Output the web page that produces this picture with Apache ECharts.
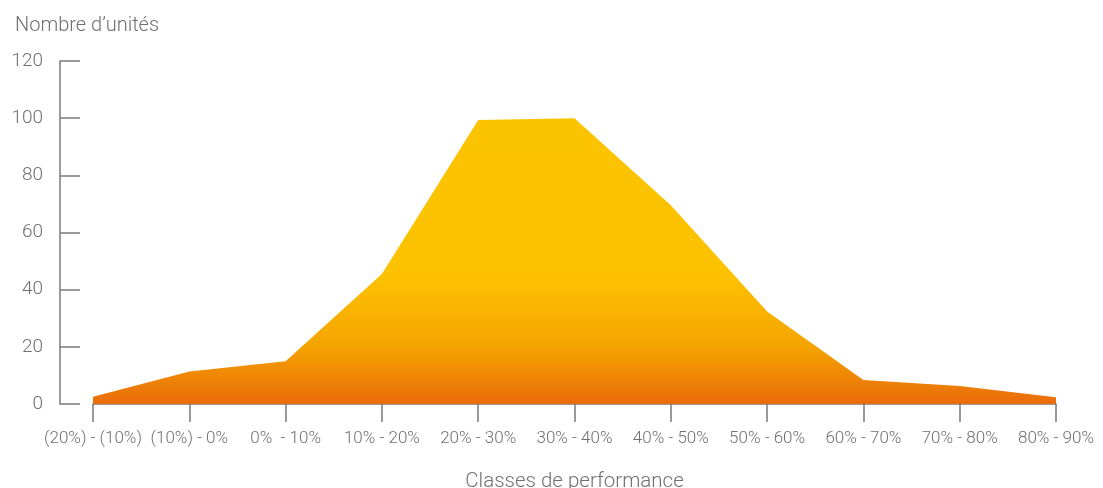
<!DOCTYPE html>
<html>
<head>
<meta charset="utf-8">
<script src="https://cdn.jsdelivr.net/npm/echarts@6/dist/echarts.min.js"></script>
<style>
  html, body { margin: 0; padding: 0; background: #fff; }
  #chart { width: 1103px; height: 488px; }
</style>
</head>
<body>
<div id="chart"></div>
<script>
// Performance classes along the horizontal axis
const classes = [
  '(20%) - (10%)', '(10%) - 0%', '0%  - 10%', '10% - 20%', '20% - 30%',
  '30% - 40%', '40% - 50%', '50% - 60%', '60% - 70%', '70% - 80%', '80% - 90%'
];
// Number of units in each class
const units = [2.5, 11.4, 15, 45.5, 99.4, 100, 69.5, 32.4, 8.4, 6.3, 2.4];
// Vertical axis ticks
const yTicks = [0, 20, 40, 60, 80, 100, 120];

const axisGrey = '#7a7a7a';
const textGrey = '#707070';
const font = 'Roboto, "Liberation Sans", sans-serif';

const chart = echarts.init(document.getElementById('chart'), null, { renderer: 'canvas' });
chart.setOption({
  animation: false,
  title: {
    text: 'Nombre d’unités',
    left: 10, top: 11,
    textStyle: { color: textGrey, fontSize: 20, fontWeight: 300, fontFamily: font }
  },
  grid: {
    left: 93, right: 47, top: 61, bottom: 84,
    containLabel: false,
    outerBoundsMode: 'none'
  },
  xAxis: {
    type: 'category',
    data: classes,
    boundaryGap: false,
    name: 'Classes de performance',
    nameLocation: 'middle',
    nameGap: 67,
    nameTextStyle: { color: textGrey, fontSize: 20.5, fontWeight: 300, fontFamily: font },
    axisLine: { lineStyle: { color: axisGrey, width: 1.5 } },
    axisTick: { alignWithLabel: true, length: 18, lineStyle: { color: axisGrey, width: 1.5 } },
    axisLabel: { color: textGrey, fontSize: 17, fontWeight: 300, fontFamily: font, margin: 26, interval: 0 }
  },
  yAxis: {
    type: 'value',
    min: yTicks[0],
    max: yTicks[yTicks.length - 1],
    interval: yTicks[1] - yTicks[0],
    offset: 33,
    axisLine: { show: true, lineStyle: { color: axisGrey, width: 1.5 } },
    axisTick: { show: true, inside: true, length: 20, lineStyle: { color: axisGrey, width: 1.5 } },
    axisLabel: { color: textGrey, fontSize: 19, fontWeight: 300, fontFamily: font, margin: 17 },
    splitLine: { show: false }
  },
  series: [{
    type: 'line',
    data: units,
    symbol: 'none',
    lineStyle: { width: 0 },
    areaStyle: {
      opacity: 1,
      color: new echarts.graphic.LinearGradient(0, 0, 0, 1, [
        { offset: 0, color: '#FCC300' },
        { offset: 0.55, color: '#FCC200' },
        { offset: 0.8, color: '#F4A300' },
        { offset: 1, color: '#EA6B0A' }
      ])
    }
  }]
});
</script>
</body>
</html>
